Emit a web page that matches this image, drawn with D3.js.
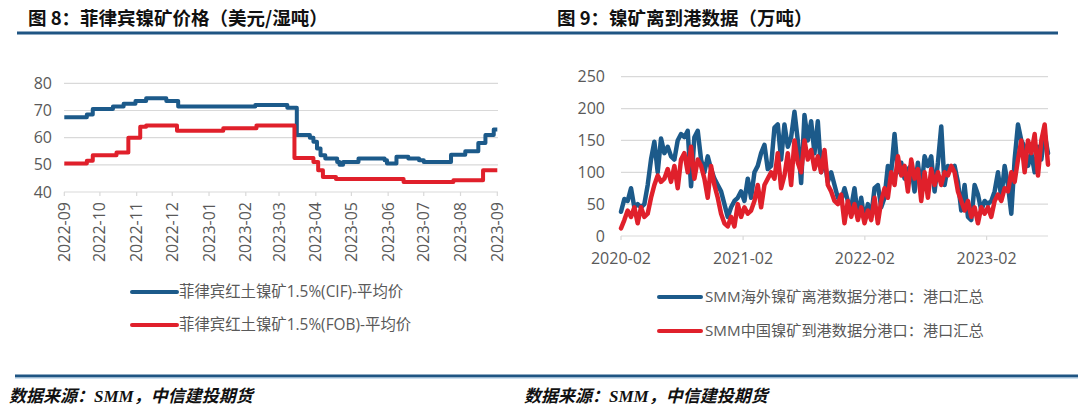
<!DOCTYPE html>
<html><head><meta charset="utf-8">
<script src="https://cdn.jsdelivr.net/npm/d3@7"></script>
<style>
html,body{margin:0;padding:0;background:#fff;}
svg{display:block;}
</style></head>
<body>
<svg id="chart" width="1080" height="412"></svg>
<script>
// ---------- Figure 8 data: step changes (date, value) ----------
const cifDates = ["2022-09-01","2022-09-20","2022-09-25","2022-10-12","2022-10-21","2022-10-31","2022-11-09","2022-11-26","2022-12-06","2023-02-09","2023-03-08","2023-03-16","2023-03-27","2023-03-30","2023-04-02","2023-04-05","2023-04-09","2023-04-19","2023-04-21","2023-04-24","2023-05-07","2023-05-29","2023-05-31","2023-06-08","2023-06-18","2023-06-27","2023-07-01","2023-07-24","2023-08-05","2023-08-16","2023-08-22","2023-08-29","2023-09-01"];
const cifValues = [67.5,68.5,70.5,71.5,72.5,73.5,74.5,73.5,71.5,72,71,61,60,58.5,56,53.5,52.3,51,50,51,52.3,51.7,50.5,53,52.3,51.7,51,53.7,55,58,61,63,63];
const fobDates = ["2022-09-01","2022-09-20","2022-09-25","2022-10-15","2022-10-25","2022-11-04","2022-11-09","2022-12-05","2023-01-13","2023-02-10","2023-03-14","2023-03-30","2023-04-03","2023-04-07","2023-04-18","2023-06-14","2023-07-26","2023-08-20","2023-09-01"];
const fobValues = [50.5,51.5,53.5,54.5,60,64,64.5,62.5,63.5,64.5,52.5,51,48,45.5,44.8,43.7,44.3,48,48];
const leftYTicks = [40,50,60,70,80];
const leftSeriesNames = ["菲律宾红土镍矿1.5%(CIF)-平均价","菲律宾红土镍矿1.5%(FOB)-平均价"];

// ---------- Figure 9 data: roughly 10-day samples from 2020-02-01 ----------
const portStart = "2020-02-01";
const portStepDays = 10;
const overseasDepart = [38,58,55,75,45,50,45,50,80,120,
148,100,153,130,140,125,120,150,160,155,
165,78,155,165,120,100,125,105,90,80,
70,50,30,45,55,60,70,55,90,60,
100,110,130,143,105,110,170,175,120,175,
140,155,195,150,83,190,150,180,130,180,
100,120,85,100,80,60,55,75,55,45,
75,30,60,25,50,30,75,80,45,60,
110,100,160,100,115,90,105,110,70,115,
70,125,110,125,70,115,172,80,110,105,
110,85,40,80,30,25,80,65,40,55,
50,55,70,100,60,110,80,35,120,175,
150,140,110,130,100,140,120,160,130];
const chinaArrive = [12,25,40,30,45,20,45,30,35,60,
80,95,85,90,105,85,110,75,120,130,
100,140,90,120,110,90,60,110,80,60,
35,20,15,30,15,50,30,45,35,40,
55,80,45,80,90,100,90,130,75,95,
130,80,150,115,100,150,120,135,105,125,
100,135,80,70,55,50,65,20,55,30,
50,25,45,20,40,25,60,20,55,75,
60,100,80,125,95,110,70,120,90,105,
55,100,60,105,80,100,80,100,95,110,
100,70,55,40,55,30,45,20,45,35,
45,30,55,65,55,75,70,100,85,120,
150,100,150,130,160,95,150,175,112];
const rightYTicks = [0,50,100,150,200,250];
const rightXTicks = ["2020-02-01","2021-02-01","2022-02-01","2023-02-01"];
const rightSeriesNames = ["SMM海外镍矿离港数据分港口：港口汇总","SMM中国镍矿到港数据分港口：港口汇总"];

const titles = ["图 8：菲律宾镍矿价格（美元/湿吨）","图 9：镍矿离到港数据（万吨）"];
const sourceText = "数据来源：SMM，中信建投期货";

// ---------- styles ----------
const BLUE = "#1c5a8a", RED = "#e0202b", RULE = "#1f5583", GRID = "#d9d9d9", TXT = "#595959";
const LABEL_FONT = "'Open Sans','Noto Sans CJK SC',sans-serif";

const parse = d3.utcParse("%Y-%m-%d");
const svg = d3.select("#chart");

// titles and rules
svg.append("text").attr("x",28).attr("y",24.5).text(titles[0])
  .attr("font-family","'Noto Sans CJK SC',sans-serif").attr("font-weight",700).attr("font-size",18.5).attr("fill","#111");
svg.append("text").attr("x",557).attr("y",24.5).text(titles[1])
  .attr("font-family","'Noto Sans CJK SC',sans-serif").attr("font-weight",700).attr("font-size",18.5).attr("fill","#111");
svg.append("line").attr("x1",17).attr("x2",1058).attr("y1",33).attr("y2",33).attr("stroke",RULE).attr("stroke-width",3);
svg.append("line").attr("x1",15).attr("x2",1078).attr("y1",376).attr("y2",376).attr("stroke",RULE).attr("stroke-width",3);
svg.append("line").attr("x1",15).attr("x2",1078).attr("y1",378.2).attr("y2",378.2).attr("stroke","#b9d4ea").attr("stroke-width",1);
[9,524].forEach(x=>{
  svg.append("text").attr("x",x).attr("y",402).text(sourceText)
    .attr("font-family","'Liberation Serif','Noto Sans CJK SC',serif").attr("font-weight",700)
    .attr("font-style","italic").attr("font-size",17).attr("fill","#111");
});

// ---------- left chart ----------
{
  const x = d3.scaleUtc().domain([parse("2022-09-01"),parse("2023-09-01")]).range([64.3,497.3]);
  const y = d3.scaleLinear().domain([40,80]).range([192,83.3]);
  const g = svg.append("g");
  g.selectAll("line.grid").data(leftYTicks).join("line")
    .attr("x1",64).attr("x2",498).attr("y1",d=>y(d)).attr("y2",d=>y(d))
    .attr("stroke",GRID).attr("stroke-width",1.2);
  g.selectAll("text.yl").data(leftYTicks).join("text")
    .attr("x",52).attr("y",d=>y(d)).attr("dy","0.35em").attr("text-anchor","end")
    .attr("font-family",LABEL_FONT).attr("font-size",16).attr("fill",TXT).text(d=>d);
  const months = x.ticks(d3.utcMonth.every(1));
  const fmt = d3.utcFormat("%Y-%m");
  g.selectAll("line.xt").data(months).join("line")
    .attr("x1",d=>x(d)).attr("x2",d=>x(d)).attr("y1",192).attr("y2",196)
    .attr("stroke",GRID).attr("stroke-width",1.2);
  g.selectAll("text.xl").data(months).join("text")
    .attr("transform",d=>`translate(${x(d)},202) rotate(-90)`)
    .attr("dy","0.35em").attr("text-anchor","end")
    .attr("font-family",LABEL_FONT).attr("font-size",16).attr("fill",TXT).text(d=>fmt(d));
  const line = d3.line().x(d=>x(d[0])).y(d=>y(d[1])).curve(d3.curveStepAfter);
  const cif = cifDates.map((d,i)=>[parse(d),cifValues[i]]);
  const fob = fobDates.map((d,i)=>[parse(d),fobValues[i]]);
  g.append("path").datum(cif).attr("d",line).attr("fill","none").attr("stroke",BLUE).attr("stroke-width",4).attr("stroke-linejoin","round");
  g.append("path").datum(fob).attr("d",line).attr("fill","none").attr("stroke",RED).attr("stroke-width",4).attr("stroke-linejoin","round");
  const leg = [[BLUE,292],[RED,325]];
  leg.forEach((l,i)=>{
    svg.append("line").attr("x1",132).attr("x2",177).attr("y1",l[1]).attr("y2",l[1])
      .attr("stroke",l[0]).attr("stroke-width",4).attr("stroke-linecap","round");
    svg.append("text").attr("x",179).attr("y",l[1]).attr("dy","0.35em").text(leftSeriesNames[i])
      .attr("font-family",LABEL_FONT).attr("font-size",15.4).attr("fill",TXT);
  });
}

// ---------- right chart ----------
{
  const start = parse(portStart);
  const dates = overseasDepart.map((_,i)=>d3.utcDay.offset(start,i*portStepDays));
  const x = d3.scaleUtc().domain([dates[0],dates[dates.length-1]]).range([621,1048]);
  const y = d3.scaleLinear().domain([0,250]).range([236,76.7]);
  const g = svg.append("g");
  g.selectAll("line.grid").data(rightYTicks).join("line")
    .attr("x1",621).attr("x2",1048).attr("y1",d=>y(d)).attr("y2",d=>y(d))
    .attr("stroke",GRID).attr("stroke-width",1.2);
  g.selectAll("text.yl").data(rightYTicks).join("text")
    .attr("x",605).attr("y",d=>y(d)).attr("dy","0.35em").attr("text-anchor","end")
    .attr("font-family",LABEL_FONT).attr("font-size",16).attr("fill",TXT).text(d=>d);
  const xt = rightXTicks.map(parse);
  const fmt = d3.utcFormat("%Y-%m");
  g.selectAll("line.xt").data(xt).join("line")
    .attr("x1",d=>x(d)).attr("x2",d=>x(d)).attr("y1",236).attr("y2",240)
    .attr("stroke",GRID).attr("stroke-width",1.2);
  g.selectAll("text.xl").data(xt).join("text")
    .attr("x",d=>x(d)).attr("y",258).attr("dy","0.35em").attr("text-anchor","middle")
    .attr("font-family",LABEL_FONT).attr("font-size",16).attr("fill",TXT).text(d=>fmt(d));
  const line = d3.line().x(d=>x(d[0])).y(d=>y(d[1]));
  const s1 = dates.map((d,i)=>[d,overseasDepart[i]]);
  const s2 = dates.map((d,i)=>[d,chinaArrive[i]]);
  g.append("path").datum(s1).attr("d",line).attr("fill","none").attr("stroke",BLUE).attr("stroke-width",4.5).attr("stroke-linejoin","round").attr("stroke-linecap","round");
  g.append("path").datum(s2).attr("d",line).attr("fill","none").attr("stroke",RED).attr("stroke-width",4.5).attr("stroke-linejoin","round").attr("stroke-linecap","round");
  const leg = [[BLUE,297],[RED,331]];
  leg.forEach((l,i)=>{
    svg.append("line").attr("x1",659).attr("x2",701).attr("y1",l[1]).attr("y2",l[1])
      .attr("stroke",l[0]).attr("stroke-width",4).attr("stroke-linecap","round");
    svg.append("text").attr("x",705).attr("y",l[1]).attr("dy","0.35em").text(rightSeriesNames[i])
      .attr("font-family",LABEL_FONT).attr("font-size",15.2).attr("fill",TXT);
  });
}
</script>
</body></html>
